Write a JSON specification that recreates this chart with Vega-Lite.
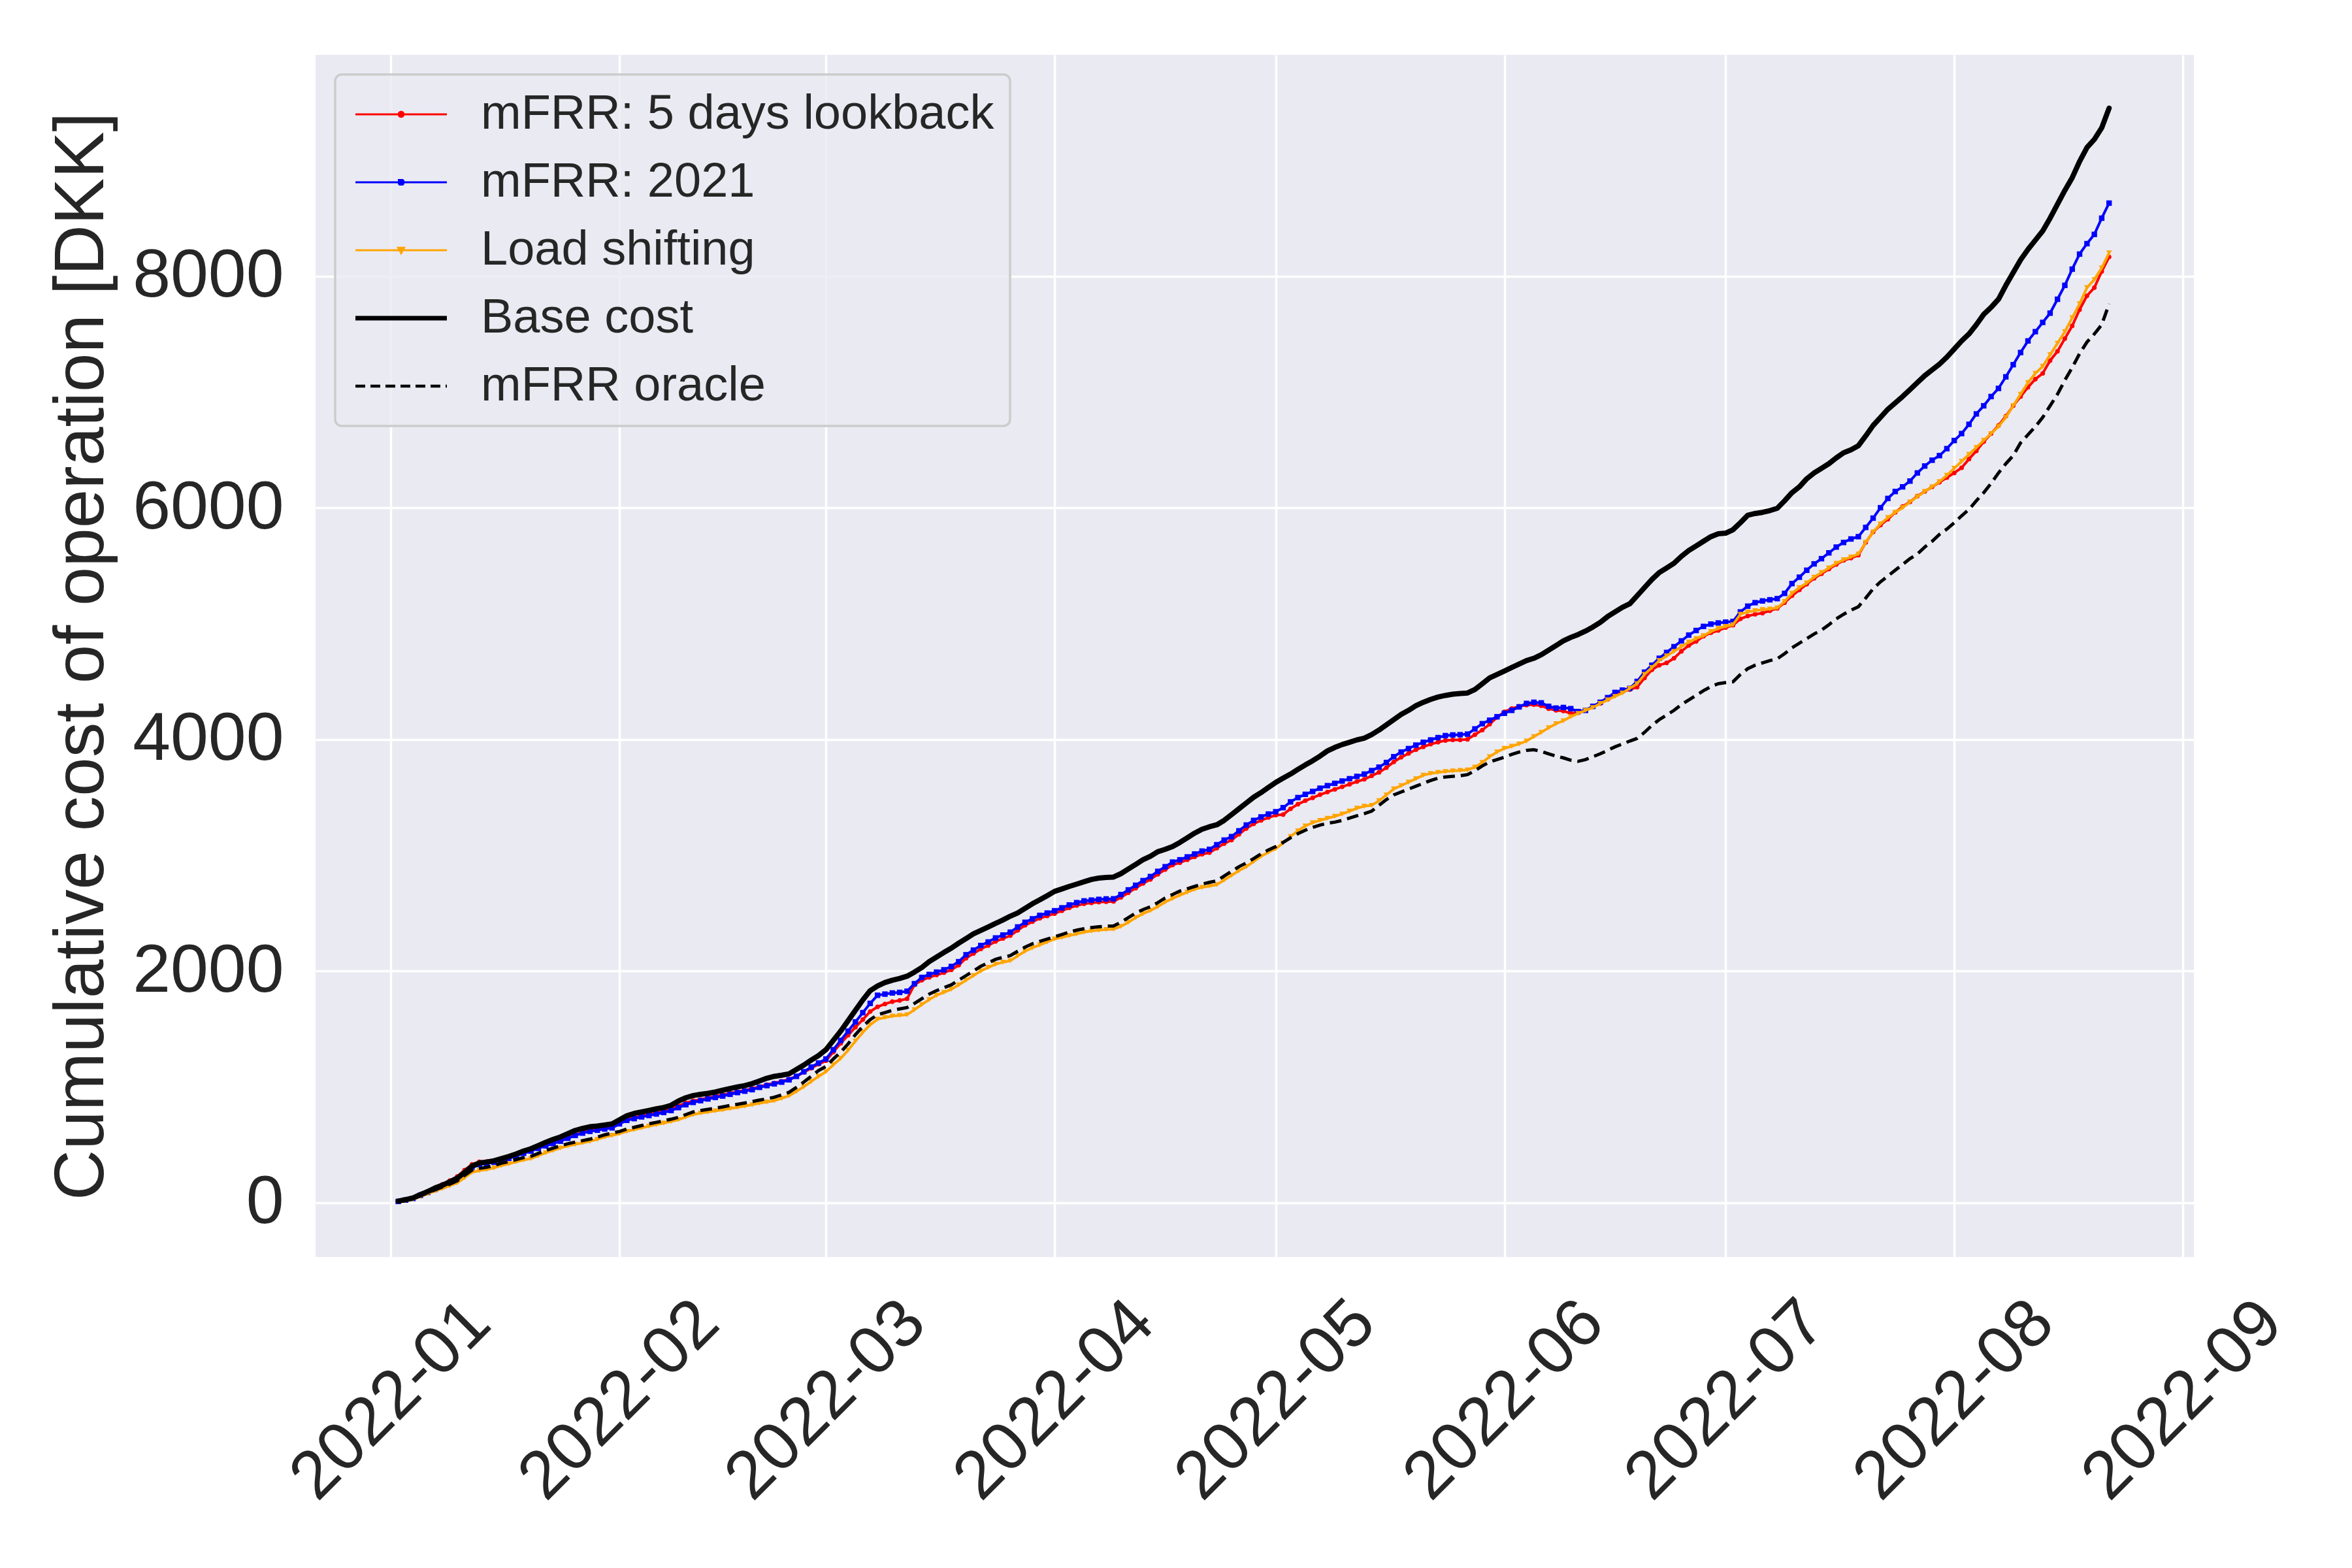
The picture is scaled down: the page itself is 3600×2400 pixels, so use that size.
{
  "$schema": "https://vega.github.io/schema/vega-lite/v6.json",
  "width": 2875,
  "height": 1840,
  "padding": {"left": 70, "top": 84, "right": 20, "bottom": 10},
  "background": "white",
  "data": {
    "values": [
      {"t":"2022-01-02","r":12,"b":10,"o":7,"k":13,"d":8},
      {"t":"2022-01-03","r":25,"b":22,"o":16,"k":25,"d":18},
      {"t":"2022-01-04","r":42,"b":36,"o":28,"k":40,"d":32},
      {"t":"2022-01-05","r":70,"b":62,"o":52,"k":69,"d":58},
      {"t":"2022-01-06","r":98,"b":88,"o":76,"k":95,"d":84},
      {"t":"2022-01-07","r":128,"b":115,"o":100,"k":126,"d":110},
      {"t":"2022-01-08","r":158,"b":140,"o":122,"k":150,"d":135},
      {"t":"2022-01-09","r":190,"b":170,"o":145,"k":180,"d":160},
      {"t":"2022-01-10","r":225,"b":200,"o":170,"k":210,"d":188},
      {"t":"2022-01-11","r":280,"b":250,"o":215,"k":260,"d":235},
      {"t":"2022-01-12","r":330,"b":300,"o":262,"k":314,"d":280},
      {"t":"2022-01-13","r":352,"b":328,"o":276,"k":342,"d":295},
      {"t":"2022-01-14","r":355,"b":338,"o":286,"k":350,"d":305},
      {"t":"2022-01-15","r":360,"b":348,"o":300,"k":361,"d":320},
      {"t":"2022-01-16","r":378,"b":365,"o":320,"k":380,"d":340},
      {"t":"2022-01-17","r":395,"b":382,"o":335,"k":398,"d":355},
      {"t":"2022-01-18","r":412,"b":402,"o":352,"k":420,"d":372},
      {"t":"2022-01-19","r":432,"b":425,"o":368,"k":445,"d":388},
      {"t":"2022-01-20","r":452,"b":445,"o":380,"k":465,"d":400},
      {"t":"2022-01-21","r":472,"b":468,"o":405,"k":492,"d":425},
      {"t":"2022-01-22","r":494,"b":490,"o":430,"k":520,"d":450},
      {"t":"2022-01-23","r":515,"b":510,"o":450,"k":545,"d":470},
      {"t":"2022-01-24","r":535,"b":530,"o":471,"k":567,"d":490},
      {"t":"2022-01-25","r":560,"b":555,"o":489,"k":595,"d":508},
      {"t":"2022-01-26","r":585,"b":580,"o":503,"k":623,"d":522},
      {"t":"2022-01-27","r":605,"b":600,"o":516,"k":640,"d":535},
      {"t":"2022-01-28","r":620,"b":615,"o":529,"k":655,"d":548},
      {"t":"2022-01-29","r":630,"b":625,"o":546,"k":661,"d":565},
      {"t":"2022-01-30","r":640,"b":635,"o":566,"k":670,"d":585},
      {"t":"2022-01-31","r":650,"b":645,"o":581,"k":680,"d":600},
      {"t":"2022-02-01","r":688,"b":680,"o":595,"k":715,"d":614},
      {"t":"2022-02-02","r":718,"b":710,"o":615,"k":750,"d":635},
      {"t":"2022-02-03","r":735,"b":725,"o":630,"k":770,"d":650},
      {"t":"2022-02-04","r":750,"b":740,"o":645,"k":783,"d":665},
      {"t":"2022-02-05","r":762,"b":752,"o":660,"k":795,"d":680},
      {"t":"2022-02-06","r":775,"b":765,"o":673,"k":810,"d":693},
      {"t":"2022-02-07","r":790,"b":778,"o":686,"k":821,"d":706},
      {"t":"2022-02-08","r":808,"b":795,"o":700,"k":840,"d":720},
      {"t":"2022-02-09","r":835,"b":820,"o":716,"k":877,"d":736},
      {"t":"2022-02-10","r":860,"b":845,"o":738,"k":905,"d":760},
      {"t":"2022-02-11","r":878,"b":865,"o":760,"k":924,"d":783},
      {"t":"2022-02-12","r":890,"b":880,"o":773,"k":935,"d":795},
      {"t":"2022-02-13","r":905,"b":895,"o":782,"k":943,"d":805},
      {"t":"2022-02-14","r":918,"b":908,"o":792,"k":955,"d":815},
      {"t":"2022-02-15","r":930,"b":920,"o":801,"k":970,"d":826},
      {"t":"2022-02-16","r":945,"b":935,"o":812,"k":985,"d":838},
      {"t":"2022-02-17","r":958,"b":950,"o":822,"k":999,"d":849},
      {"t":"2022-02-18","r":970,"b":962,"o":833,"k":1010,"d":860},
      {"t":"2022-02-19","r":985,"b":975,"o":845,"k":1027,"d":872},
      {"t":"2022-02-20","r":1002,"b":995,"o":858,"k":1050,"d":885},
      {"t":"2022-02-21","r":1018,"b":1010,"o":868,"k":1074,"d":896},
      {"t":"2022-02-22","r":1032,"b":1025,"o":880,"k":1090,"d":910},
      {"t":"2022-02-23","r":1048,"b":1040,"o":900,"k":1100,"d":930},
      {"t":"2022-02-24","r":1065,"b":1060,"o":922,"k":1112,"d":952},
      {"t":"2022-02-25","r":1090,"b":1090,"o":960,"k":1150,"d":995},
      {"t":"2022-02-26","r":1125,"b":1130,"o":1000,"k":1187,"d":1040},
      {"t":"2022-02-27","r":1160,"b":1170,"o":1045,"k":1230,"d":1090},
      {"t":"2022-02-28","r":1195,"b":1205,"o":1090,"k":1270,"d":1140},
      {"t":"2022-03-01","r":1225,"b":1240,"o":1130,"k":1320,"d":1175},
      {"t":"2022-03-02","r":1300,"b":1320,"o":1190,"k":1400,"d":1240},
      {"t":"2022-03-03","r":1375,"b":1400,"o":1245,"k":1480,"d":1299},
      {"t":"2022-03-04","r":1445,"b":1480,"o":1315,"k":1570,"d":1370},
      {"t":"2022-03-05","r":1515,"b":1560,"o":1395,"k":1660,"d":1450},
      {"t":"2022-03-06","r":1580,"b":1640,"o":1470,"k":1750,"d":1520},
      {"t":"2022-03-07","r":1650,"b":1720,"o":1535,"k":1830,"d":1580},
      {"t":"2022-03-08","r":1690,"b":1790,"o":1583,"k":1870,"d":1622},
      {"t":"2022-03-09","r":1715,"b":1800,"o":1598,"k":1900,"d":1640},
      {"t":"2022-03-10","r":1735,"b":1810,"o":1610,"k":1920,"d":1660},
      {"t":"2022-03-11","r":1745,"b":1815,"o":1616,"k":1935,"d":1672},
      {"t":"2022-03-12","r":1760,"b":1825,"o":1622,"k":1955,"d":1684},
      {"t":"2022-03-13","r":1880,"b":1890,"o":1665,"k":1990,"d":1720},
      {"t":"2022-03-14","r":1920,"b":1944,"o":1710,"k":2030,"d":1760},
      {"t":"2022-03-15","r":1945,"b":1970,"o":1752,"k":2080,"d":1800},
      {"t":"2022-03-16","r":1965,"b":1990,"o":1790,"k":2120,"d":1830},
      {"t":"2022-03-17","r":1985,"b":2010,"o":1815,"k":2160,"d":1855},
      {"t":"2022-03-18","r":2010,"b":2039,"o":1842,"k":2197,"d":1880},
      {"t":"2022-03-19","r":2050,"b":2080,"o":1880,"k":2240,"d":1920},
      {"t":"2022-03-20","r":2110,"b":2140,"o":1920,"k":2280,"d":1960},
      {"t":"2022-03-21","r":2150,"b":2180,"o":1960,"k":2320,"d":2000},
      {"t":"2022-03-22","r":2190,"b":2220,"o":2000,"k":2350,"d":2040},
      {"t":"2022-03-23","r":2220,"b":2250,"o":2030,"k":2380,"d":2070},
      {"t":"2022-03-24","r":2255,"b":2285,"o":2058,"k":2410,"d":2100},
      {"t":"2022-03-25","r":2280,"b":2310,"o":2075,"k":2440,"d":2118},
      {"t":"2022-03-26","r":2305,"b":2335,"o":2088,"k":2473,"d":2132},
      {"t":"2022-03-27","r":2350,"b":2380,"o":2130,"k":2501,"d":2170},
      {"t":"2022-03-28","r":2395,"b":2420,"o":2170,"k":2540,"d":2205},
      {"t":"2022-03-29","r":2425,"b":2450,"o":2200,"k":2580,"d":2235},
      {"t":"2022-03-30","r":2455,"b":2480,"o":2225,"k":2614,"d":2255},
      {"t":"2022-03-31","r":2475,"b":2500,"o":2250,"k":2650,"d":2275},
      {"t":"2022-04-01","r":2495,"b":2520,"o":2276,"k":2687,"d":2295},
      {"t":"2022-04-02","r":2520,"b":2545,"o":2290,"k":2708,"d":2315},
      {"t":"2022-04-03","r":2545,"b":2570,"o":2305,"k":2730,"d":2335},
      {"t":"2022-04-04","r":2565,"b":2590,"o":2320,"k":2750,"d":2352},
      {"t":"2022-04-05","r":2580,"b":2605,"o":2335,"k":2770,"d":2365},
      {"t":"2022-04-06","r":2588,"b":2612,"o":2345,"k":2790,"d":2375},
      {"t":"2022-04-07","r":2594,"b":2618,"o":2352,"k":2802,"d":2382},
      {"t":"2022-04-08","r":2598,"b":2622,"o":2357,"k":2808,"d":2386},
      {"t":"2022-04-09","r":2600,"b":2623,"o":2361,"k":2811,"d":2389},
      {"t":"2022-04-10","r":2635,"b":2660,"o":2385,"k":2840,"d":2420},
      {"t":"2022-04-11","r":2675,"b":2700,"o":2420,"k":2880,"d":2460},
      {"t":"2022-04-12","r":2715,"b":2740,"o":2460,"k":2920,"d":2500},
      {"t":"2022-04-13","r":2755,"b":2780,"o":2495,"k":2960,"d":2530},
      {"t":"2022-04-14","r":2790,"b":2815,"o":2522,"k":2990,"d":2555},
      {"t":"2022-04-15","r":2835,"b":2860,"o":2555,"k":3030,"d":2590},
      {"t":"2022-04-16","r":2875,"b":2900,"o":2595,"k":3050,"d":2630},
      {"t":"2022-04-17","r":2915,"b":2940,"o":2625,"k":3074,"d":2660},
      {"t":"2022-04-18","r":2935,"b":2960,"o":2655,"k":3110,"d":2690},
      {"t":"2022-04-19","r":2960,"b":2985,"o":2680,"k":3150,"d":2710},
      {"t":"2022-04-20","r":2985,"b":3010,"o":2705,"k":3190,"d":2730},
      {"t":"2022-04-21","r":3008,"b":3035,"o":2722,"k":3224,"d":2750},
      {"t":"2022-04-22","r":3022,"b":3050,"o":2733,"k":3245,"d":2765},
      {"t":"2022-04-23","r":3060,"b":3090,"o":2745,"k":3262,"d":2778},
      {"t":"2022-04-24","r":3100,"b":3130,"o":2785,"k":3300,"d":2820},
      {"t":"2022-04-25","r":3130,"b":3160,"o":2825,"k":3350,"d":2860},
      {"t":"2022-04-26","r":3180,"b":3210,"o":2865,"k":3400,"d":2900},
      {"t":"2022-04-27","r":3230,"b":3260,"o":2900,"k":3450,"d":2933},
      {"t":"2022-04-28","r":3270,"b":3300,"o":2945,"k":3500,"d":2970},
      {"t":"2022-04-29","r":3300,"b":3330,"o":2990,"k":3540,"d":3010},
      {"t":"2022-04-30","r":3325,"b":3355,"o":3025,"k":3585,"d":3045},
      {"t":"2022-05-01","r":3345,"b":3375,"o":3056,"k":3628,"d":3074},
      {"t":"2022-05-02","r":3350,"b":3410,"o":3105,"k":3665,"d":3110},
      {"t":"2022-05-03","r":3400,"b":3460,"o":3160,"k":3700,"d":3150},
      {"t":"2022-05-04","r":3440,"b":3497,"o":3210,"k":3740,"d":3185},
      {"t":"2022-05-05","r":3470,"b":3525,"o":3252,"k":3779,"d":3215},
      {"t":"2022-05-06","r":3495,"b":3550,"o":3280,"k":3815,"d":3240},
      {"t":"2022-05-07","r":3522,"b":3578,"o":3300,"k":3855,"d":3260},
      {"t":"2022-05-08","r":3545,"b":3600,"o":3318,"k":3900,"d":3275},
      {"t":"2022-05-09","r":3568,"b":3620,"o":3335,"k":3930,"d":3285},
      {"t":"2022-05-10","r":3590,"b":3640,"o":3355,"k":3955,"d":3300},
      {"t":"2022-05-11","r":3612,"b":3660,"o":3380,"k":3975,"d":3320},
      {"t":"2022-05-12","r":3635,"b":3680,"o":3405,"k":3995,"d":3340},
      {"t":"2022-05-13","r":3655,"b":3700,"o":3422,"k":4010,"d":3358},
      {"t":"2022-05-14","r":3685,"b":3730,"o":3430,"k":4041,"d":3380},
      {"t":"2022-05-15","r":3715,"b":3760,"o":3470,"k":4080,"d":3430},
      {"t":"2022-05-16","r":3755,"b":3800,"o":3520,"k":4125,"d":3480},
      {"t":"2022-05-17","r":3805,"b":3850,"o":3572,"k":4170,"d":3520},
      {"t":"2022-05-18","r":3845,"b":3890,"o":3600,"k":4215,"d":3545},
      {"t":"2022-05-19","r":3878,"b":3920,"o":3630,"k":4250,"d":3570},
      {"t":"2022-05-20","r":3910,"b":3950,"o":3660,"k":4290,"d":3595},
      {"t":"2022-05-21","r":3935,"b":3975,"o":3690,"k":4320,"d":3620},
      {"t":"2022-05-22","r":3958,"b":3995,"o":3705,"k":4345,"d":3645},
      {"t":"2022-05-23","r":3975,"b":4015,"o":3715,"k":4365,"d":3665},
      {"t":"2022-05-24","r":3990,"b":4032,"o":3722,"k":4379,"d":3675},
      {"t":"2022-05-25","r":3995,"b":4038,"o":3727,"k":4390,"d":3680},
      {"t":"2022-05-26","r":3995,"b":4040,"o":3731,"k":4395,"d":3685},
      {"t":"2022-05-27","r":4000,"b":4045,"o":3735,"k":4400,"d":3695},
      {"t":"2022-05-28","r":4040,"b":4090,"o":3760,"k":4430,"d":3730},
      {"t":"2022-05-29","r":4080,"b":4135,"o":3800,"k":4480,"d":3770},
      {"t":"2022-05-30","r":4130,"b":4165,"o":3850,"k":4530,"d":3805},
      {"t":"2022-05-31","r":4190,"b":4195,"o":3891,"k":4560,"d":3825},
      {"t":"2022-06-01","r":4238,"b":4225,"o":3922,"k":4590,"d":3845},
      {"t":"2022-06-02","r":4265,"b":4250,"o":3940,"k":4620,"d":3870},
      {"t":"2022-06-03","r":4285,"b":4280,"o":3960,"k":4650,"d":3890},
      {"t":"2022-06-04","r":4296,"b":4310,"o":3985,"k":4680,"d":3905},
      {"t":"2022-06-05","r":4300,"b":4320,"o":4023,"k":4700,"d":3910},
      {"t":"2022-06-06","r":4290,"b":4315,"o":4060,"k":4730,"d":3895},
      {"t":"2022-06-07","r":4265,"b":4285,"o":4100,"k":4770,"d":3875},
      {"t":"2022-06-08","r":4250,"b":4270,"o":4135,"k":4810,"d":3855},
      {"t":"2022-06-09","r":4245,"b":4275,"o":4160,"k":4850,"d":3840},
      {"t":"2022-06-10","r":4224,"b":4265,"o":4195,"k":4880,"d":3820},
      {"t":"2022-06-11","r":4230,"b":4240,"o":4224,"k":4905,"d":3810},
      {"t":"2022-06-12","r":4252,"b":4250,"o":4250,"k":4935,"d":3825},
      {"t":"2022-06-13","r":4280,"b":4285,"o":4275,"k":4970,"d":3850},
      {"t":"2022-06-14","r":4310,"b":4320,"o":4310,"k":5010,"d":3875},
      {"t":"2022-06-15","r":4345,"b":4360,"o":4340,"k":5060,"d":3905},
      {"t":"2022-06-16","r":4382,"b":4405,"o":4370,"k":5100,"d":3935},
      {"t":"2022-06-17","r":4410,"b":4425,"o":4400,"k":5140,"d":3960},
      {"t":"2022-06-18","r":4430,"b":4440,"o":4440,"k":5170,"d":3985},
      {"t":"2022-06-19","r":4450,"b":4500,"o":4480,"k":5240,"d":4008},
      {"t":"2022-06-20","r":4530,"b":4580,"o":4560,"k":5310,"d":4060},
      {"t":"2022-06-21","r":4600,"b":4640,"o":4620,"k":5380,"d":4120},
      {"t":"2022-06-22","r":4640,"b":4700,"o":4680,"k":5440,"d":4170},
      {"t":"2022-06-23","r":4660,"b":4750,"o":4720,"k":5480,"d":4210},
      {"t":"2022-06-24","r":4700,"b":4800,"o":4760,"k":5520,"d":4250},
      {"t":"2022-06-25","r":4760,"b":4850,"o":4800,"k":5580,"d":4300},
      {"t":"2022-06-26","r":4810,"b":4900,"o":4840,"k":5630,"d":4340},
      {"t":"2022-06-27","r":4845,"b":4940,"o":4870,"k":5670,"d":4380},
      {"t":"2022-06-28","r":4890,"b":4975,"o":4895,"k":5710,"d":4420},
      {"t":"2022-06-29","r":4920,"b":4995,"o":4930,"k":5750,"d":4455},
      {"t":"2022-06-30","r":4940,"b":5005,"o":4957,"k":5775,"d":4480},
      {"t":"2022-07-01","r":4965,"b":5012,"o":4975,"k":5780,"d":4490},
      {"t":"2022-07-02","r":4985,"b":5018,"o":4990,"k":5810,"d":4497},
      {"t":"2022-07-03","r":5040,"b":5100,"o":5080,"k":5870,"d":4560},
      {"t":"2022-07-04","r":5065,"b":5150,"o":5100,"k":5935,"d":4610},
      {"t":"2022-07-05","r":5080,"b":5180,"o":5110,"k":5950,"d":4640},
      {"t":"2022-07-06","r":5090,"b":5195,"o":5120,"k":5960,"d":4660},
      {"t":"2022-07-07","r":5110,"b":5205,"o":5125,"k":5975,"d":4680},
      {"t":"2022-07-08","r":5130,"b":5215,"o":5135,"k":5995,"d":4695},
      {"t":"2022-07-09","r":5180,"b":5260,"o":5190,"k":6060,"d":4740},
      {"t":"2022-07-10","r":5240,"b":5345,"o":5260,"k":6130,"d":4790},
      {"t":"2022-07-11","r":5290,"b":5400,"o":5310,"k":6180,"d":4830},
      {"t":"2022-07-12","r":5340,"b":5460,"o":5350,"k":6250,"d":4870},
      {"t":"2022-07-13","r":5390,"b":5515,"o":5400,"k":6300,"d":4910},
      {"t":"2022-07-14","r":5430,"b":5560,"o":5440,"k":6340,"d":4943},
      {"t":"2022-07-15","r":5470,"b":5610,"o":5480,"k":6380,"d":4990},
      {"t":"2022-07-16","r":5510,"b":5660,"o":5520,"k":6430,"d":5040},
      {"t":"2022-07-17","r":5545,"b":5700,"o":5550,"k":6475,"d":5080},
      {"t":"2022-07-18","r":5565,"b":5730,"o":5575,"k":6500,"d":5115},
      {"t":"2022-07-19","r":5590,"b":5750,"o":5600,"k":6535,"d":5145},
      {"t":"2022-07-20","r":5700,"b":5830,"o":5700,"k":6620,"d":5220},
      {"t":"2022-07-21","r":5790,"b":5910,"o":5790,"k":6710,"d":5300},
      {"t":"2022-07-22","r":5850,"b":6000,"o":5860,"k":6780,"d":5360},
      {"t":"2022-07-23","r":5900,"b":6080,"o":5914,"k":6850,"d":5410},
      {"t":"2022-07-24","r":5960,"b":6140,"o":5960,"k":6905,"d":5460},
      {"t":"2022-07-25","r":6010,"b":6180,"o":6000,"k":6960,"d":5510},
      {"t":"2022-07-26","r":6050,"b":6230,"o":6050,"k":7020,"d":5560},
      {"t":"2022-07-27","r":6100,"b":6300,"o":6095,"k":7080,"d":5600},
      {"t":"2022-07-28","r":6140,"b":6360,"o":6140,"k":7140,"d":5660},
      {"t":"2022-07-29","r":6180,"b":6410,"o":6180,"k":7190,"d":5710},
      {"t":"2022-07-30","r":6220,"b":6450,"o":6225,"k":7240,"d":5770},
      {"t":"2022-07-31","r":6260,"b":6510,"o":6280,"k":7300,"d":5815},
      {"t":"2022-08-01","r":6300,"b":6580,"o":6340,"k":7370,"d":5870},
      {"t":"2022-08-02","r":6345,"b":6640,"o":6400,"k":7440,"d":5930},
      {"t":"2022-08-03","r":6420,"b":6720,"o":6460,"k":7500,"d":5985},
      {"t":"2022-08-04","r":6490,"b":6810,"o":6520,"k":7580,"d":6060},
      {"t":"2022-08-05","r":6570,"b":6880,"o":6581,"k":7670,"d":6130},
      {"t":"2022-08-06","r":6640,"b":6960,"o":6640,"k":7730,"d":6210},
      {"t":"2022-08-07","r":6710,"b":7030,"o":6700,"k":7800,"d":6300},
      {"t":"2022-08-08","r":6790,"b":7130,"o":6780,"k":7920,"d":6380},
      {"t":"2022-08-09","r":6880,"b":7235,"o":6880,"k":8030,"d":6450},
      {"t":"2022-08-10","r":6960,"b":7340,"o":6980,"k":8140,"d":6560},
      {"t":"2022-08-11","r":7040,"b":7440,"o":7080,"k":8230,"d":6630},
      {"t":"2022-08-12","r":7110,"b":7520,"o":7160,"k":8310,"d":6700},
      {"t":"2022-08-13","r":7160,"b":7600,"o":7220,"k":8390,"d":6780},
      {"t":"2022-08-14","r":7270,"b":7680,"o":7320,"k":8500,"d":6880},
      {"t":"2022-08-15","r":7350,"b":7800,"o":7420,"k":8620,"d":6980},
      {"t":"2022-08-16","r":7460,"b":7920,"o":7520,"k":8740,"d":7100},
      {"t":"2022-08-17","r":7570,"b":8060,"o":7640,"k":8850,"d":7210},
      {"t":"2022-08-18","r":7710,"b":8190,"o":7760,"k":8990,"d":7330},
      {"t":"2022-08-19","r":7830,"b":8280,"o":7900,"k":9110,"d":7430},
      {"t":"2022-08-20","r":7900,"b":8360,"o":7970,"k":9180,"d":7500},
      {"t":"2022-08-21","r":8040,"b":8500,"o":8070,"k":9280,"d":7580},
      {"t":"2022-08-22","r":8165,"b":8630,"o":8200,"k":9450,"d":7760}
    ]
  },
  "transform": [
    {"fold": ["r", "b", "o", "k", "d"], "as": ["s", "v"]}
  ],
  "encoding": {
    "x": {
      "field": "t",
      "type": "temporal",
      "scale": {
        "type": "utc",
        "domain": [
          {"year": 2021, "month": 12, "date": 21, "hours": 19, "utc": true},
          {"year": 2022, "month": 9, "date": 2, "hours": 12, "utc": true}
        ]
      },
      "axis": {
        "title": null,
        "values": [
          {"year": 2022, "month": 1, "date": 1, "utc": true},
          {"year": 2022, "month": 2, "date": 1, "utc": true},
          {"year": 2022, "month": 3, "date": 1, "utc": true},
          {"year": 2022, "month": 4, "date": 1, "utc": true},
          {"year": 2022, "month": 5, "date": 1, "utc": true},
          {"year": 2022, "month": 6, "date": 1, "utc": true},
          {"year": 2022, "month": 7, "date": 1, "utc": true},
          {"year": 2022, "month": 8, "date": 1, "utc": true},
          {"year": 2022, "month": 9, "date": 1, "utc": true}
        ],
        "format": "%Y-%m",
        "labelAngle": -45,
        "labelAlign": "center",
        "labelBaseline": "middle",
        "labelPadding": 219,
        "labelOverlap": false
      }
    },
    "y": {
      "field": "v",
      "type": "quantitative",
      "scale": {"domain": [-470, 9910], "nice": false, "zero": false},
      "axis": {
        "title": "Cumulative cost of operation [DKK]",
        "values": [0, 2000, 4000, 6000, 8000],
        "format": "d",
        "labelPadding": 49,
        "titleX": -304,
        "titleY": 920,
        "titleAngle": 270,
        "titleAlign": "center",
        "titleBaseline": "bottom",
        "labelOverlap": false
      }
    },
    "color": {
      "field": "s",
      "type": "nominal",
      "scale": {
        "domain": ["r", "b", "o", "k", "d"],
        "range": ["#FF0000", "#0000FF", "#FFA500", "#000000", "#000000"]
      },
      "legend": {
        "title": null,
        "orient": "top-left",
        "offset": 30,
        "labelExpr": "datum.label == 'r' ? 'mFRR: 5 days lookback' : datum.label == 'b' ? 'mFRR: 2021' : datum.label == 'o' ? 'Load shifting' : datum.label == 'k' ? 'Base cost' : 'mFRR oracle'",
        "encode": {
          "symbols": {
            "update": {
              "shape": {"signal": "datum.value == 'r' ? 'M-2,0H2M-0.11,0A0.11,0.11 0 1,0 0.11,0A0.11,0.11 0 1,0 -0.11,0Z' : datum.value == 'b' ? 'M-2,0H2M-0.1,-0.1H0.1V0.1H-0.1Z' : datum.value == 'o' ? 'M-2,0H2M-0.13,-0.11H0.13L0,0.13Z' : 'M-2,0H2'"},
              "fill": {"signal": "scale('color', datum.value)"},
              "stroke": {"signal": "scale('color', datum.value)"},
              "strokeWidth": {"signal": "datum.value == 'k' ? 7 : datum.value == 'd' ? 4.5 : 3"},
              "strokeDash": {"signal": "datum.value == 'd' ? [15, 8] : [1, 0]"}
            }
          }
        }
      }
    }
  },
  "layer": [
    {
      "transform": [{"filter": "datum.s == 'r'"}],
      "mark": {"type": "line", "strokeWidth": 4}
    },
    {
      "transform": [{"filter": "datum.s == 'r'"}],
      "mark": {"type": "point", "shape": "circle", "filled": true, "size": 50, "opacity": 1, "strokeWidth": 0},
      "encoding": {"color": {"value": "#FF0000"}}
    },
    {
      "transform": [{"filter": "datum.s == 'b'"}],
      "mark": {"type": "line", "strokeWidth": 4}
    },
    {
      "transform": [{"filter": "datum.s == 'b'"}],
      "mark": {"type": "point", "shape": "square", "filled": true, "size": 70, "opacity": 1, "strokeWidth": 0},
      "encoding": {"color": {"value": "#0000FF"}}
    },
    {
      "transform": [{"filter": "datum.s == 'o'"}],
      "mark": {"type": "line", "strokeWidth": 4}
    },
    {
      "transform": [{"filter": "datum.s == 'o'"}],
      "mark": {"type": "point", "shape": "triangle-down", "filled": true, "size": 75, "opacity": 1, "strokeWidth": 0},
      "encoding": {"color": {"value": "#FFA500"}}
    },
    {
      "transform": [{"filter": "datum.s == 'k'"}],
      "mark": {"type": "line", "strokeWidth": 8, "strokeJoin": "round", "strokeCap": "round"}
    },
    {
      "transform": [{"filter": "datum.s == 'd'"}],
      "mark": {"type": "line", "strokeWidth": 5, "strokeDash": [18, 9]}
    }
  ],
  "config": {
    "font": "Liberation Sans",
    "view": {"fill": "#EAEAF2", "stroke": null},
    "axis": {
      "grid": true,
      "gridColor": "#FFFFFF",
      "gridWidth": 3.5,
      "domain": false,
      "ticks": false,
      "labelLimit": 2000,
      "labelFont": "Liberation Sans",
      "labelFontSize": 104,
      "labelColor": "#262626",
      "titleFont": "Liberation Sans",
      "titleFontSize": 107,
      "titleFontWeight": "normal",
      "titleColor": "#262626"
    },
    "legend": {
      "labelFont": "Liberation Sans",
      "labelFontSize": 74,
      "labelColor": "#262626",
      "labelLimit": 0,
      "labelOffset": 85,
      "symbolSize": 4900,
      "symbolOffset": 40,
      "rowPadding": 30,
      "padding": 24,
      "fillColor": "rgba(234,234,242,0.8)",
      "strokeColor": "#CCCCCC",
      "strokeWidth": 3.5,
      "cornerRadius": 10
    }
  }
}
